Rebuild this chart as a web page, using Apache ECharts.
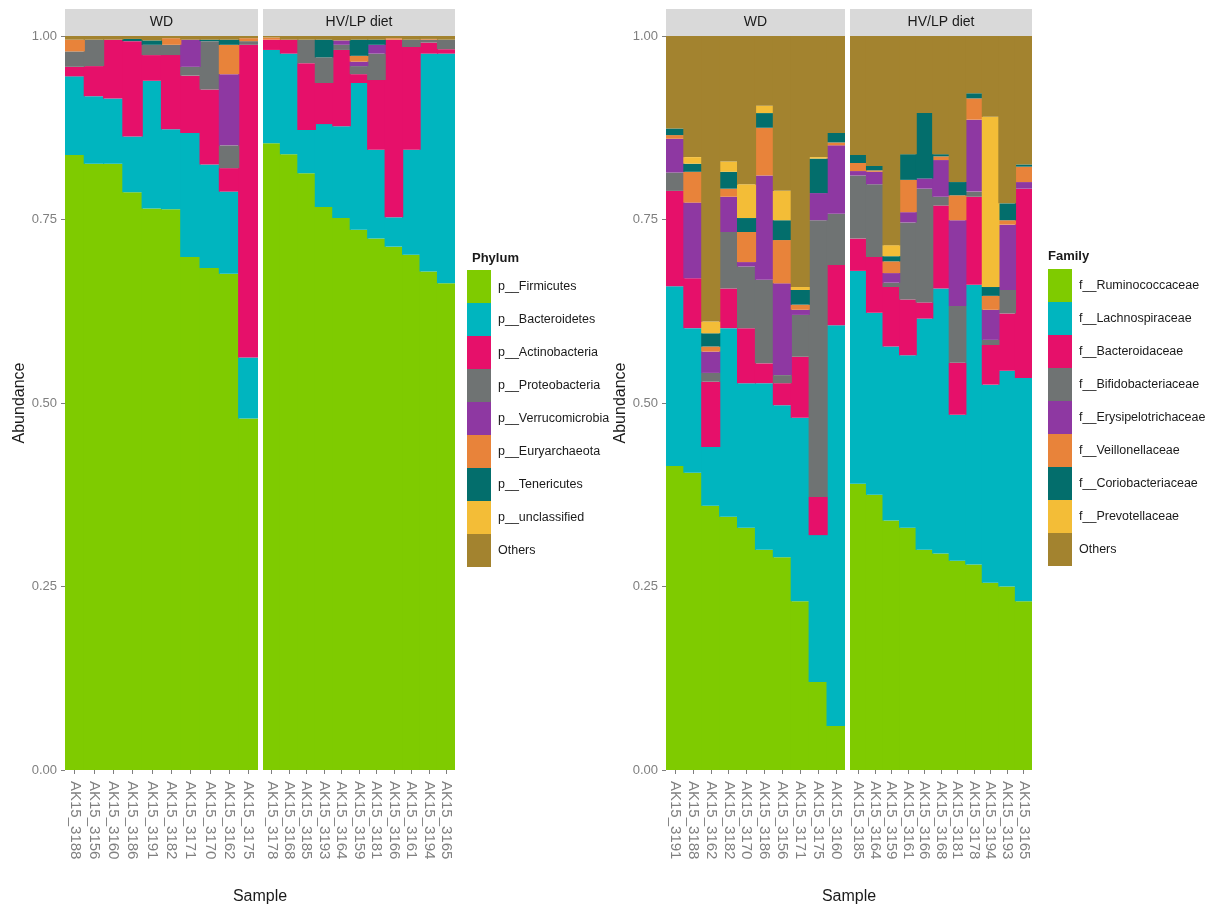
<!DOCTYPE html>
<html>
<head>
<meta charset="utf-8">
<script src="https://cdn.jsdelivr.net/npm/echarts@6/dist/echarts.min.js"></script>
<style>
html,body{margin:0;padding:0;background:#fff;}
#chart{width:1208px;height:909px;}
</style>
</head>
<body>
<div id="chart"></div>
<script>
// ---------- categories ----------
const phylumNames = ['p__Firmicutes','p__Bacteroidetes','p__Actinobacteria','p__Proteobacteria','p__Verrucomicrobia','p__Euryarchaeota','p__Tenericutes','p__unclassified','Others'];
const familyNames = ['f__Ruminococcaceae','f__Lachnospiraceae','f__Bacteroidaceae','f__Bifidobacteriaceae','f__Erysipelotrichaceae','f__Veillonellaceae','f__Coriobacteriaceae','f__Prevotellaceae','Others'];
const groupNames = ['WD','HV/LP diet'];
const yTicks = [0, 0.25, 0.5, 0.75, 1];

// ---------- samples ----------
const phylumWDSamples = ['AK15_3188','AK15_3156','AK15_3160','AK15_3186','AK15_3191','AK15_3182','AK15_3171','AK15_3170','AK15_3162','AK15_3175'];
const phylumHVSamples = ['AK15_3178','AK15_3168','AK15_3185','AK15_3193','AK15_3164','AK15_3159','AK15_3181','AK15_3166','AK15_3161','AK15_3194','AK15_3165'];
const familyWDSamples = ['AK15_3191','AK15_3188','AK15_3162','AK15_3182','AK15_3170','AK15_3186','AK15_3156','AK15_3171','AK15_3175','AK15_3160'];
const familyHVSamples = ['AK15_3185','AK15_3164','AK15_3159','AK15_3161','AK15_3166','AK15_3168','AK15_3181','AK15_3178','AK15_3194','AK15_3193','AK15_3165'];

// ---------- phylum, WD ----------
const pWD_Firmicutes      = [0.838,0.826,0.826,0.787,0.765,0.764,0.699,0.684,0.676,0.479];
const pWD_Bacteroidetes   = [0.107,0.092,0.089,0.076,0.174,0.109,0.169,0.141,0.112,0.083];
const pWD_Actinobacteria  = [0.013,0.041,0.080,0.130,0.035,0.101,0.078,0.102,0.032,0.426];
const pWD_Proteobacteria  = [0.021,0.036,0.000,0.000,0.014,0.014,0.012,0.066,0.031,0.005];
const pWD_Verrucomicrobia = [0.000,0.000,0.000,0.000,0.000,0.000,0.037,0.000,0.097,0.000];
const pWD_Euryarchaeota   = [0.016,0.000,0.000,0.000,0.000,0.009,0.000,0.000,0.040,0.004];
const pWD_Tenericutes     = [0.000,0.000,0.000,0.003,0.006,0.000,0.000,0.002,0.007,0.000];
const pWD_unclassified    = [0.000,0.000,0.000,0.000,0.000,0.000,0.000,0.000,0.000,0.000];
const pWD_Others          = [0.005,0.005,0.005,0.004,0.006,0.003,0.005,0.005,0.005,0.003];

// ---------- phylum, HV/LP ----------
const pHV_Firmicutes      = [0.854,0.839,0.813,0.767,0.752,0.736,0.724,0.713,0.702,0.679,0.663];
const pHV_Bacteroidetes   = [0.127,0.137,0.059,0.113,0.125,0.200,0.121,0.040,0.143,0.297,0.313];
const pHV_Actinobacteria  = [0.014,0.019,0.091,0.056,0.104,0.012,0.095,0.242,0.140,0.015,0.006];
const pHV_Proteobacteria  = [0.000,0.000,0.032,0.035,0.007,0.011,0.036,0.000,0.010,0.004,0.013];
const pHV_Verrucomicrobia = [0.000,0.000,0.000,0.000,0.006,0.006,0.012,0.000,0.000,0.000,0.000];
const pHV_Euryarchaeota   = [0.003,0.000,0.000,0.000,0.000,0.008,0.000,0.002,0.000,0.001,0.000];
const pHV_Tenericutes     = [0.000,0.000,0.000,0.024,0.000,0.022,0.007,0.000,0.000,0.000,0.000];
const pHV_unclassified    = [0.000,0.000,0.000,0.000,0.000,0.000,0.000,0.000,0.000,0.000,0.000];
const pHV_Others          = [0.002,0.005,0.005,0.005,0.006,0.005,0.005,0.003,0.005,0.004,0.005];

// ---------- family, WD ----------
const fWD_Ruminococcaceae    = [0.414,0.405,0.360,0.345,0.330,0.300,0.290,0.230,0.120,0.060];
const fWD_Lachnospiraceae    = [0.245,0.197,0.080,0.257,0.197,0.227,0.207,0.250,0.200,0.546];
const fWD_Bacteroidaceae     = [0.130,0.068,0.089,0.054,0.075,0.027,0.030,0.083,0.052,0.082];
const fWD_Bifidobacteriaceae = [0.025,0.000,0.012,0.077,0.084,0.114,0.011,0.057,0.377,0.070];
const fWD_Erysipelotrichaceae= [0.046,0.103,0.029,0.048,0.006,0.142,0.125,0.007,0.037,0.093];
const fWD_Veillonellaceae    = [0.005,0.042,0.007,0.011,0.041,0.065,0.059,0.007,0.000,0.004];
const fWD_Coriobacteriaceae  = [0.009,0.011,0.018,0.023,0.019,0.020,0.027,0.020,0.047,0.013];
const fWD_Prevotellaceae     = [0.000,0.009,0.016,0.014,0.046,0.010,0.040,0.004,0.002,0.000];
const fWD_Others             = [0.126,0.165,0.389,0.171,0.202,0.095,0.211,0.342,0.165,0.132];

// ---------- family, HV/LP ----------
const fHV_Ruminococcaceae    = [0.390,0.375,0.340,0.330,0.300,0.295,0.285,0.280,0.255,0.250,0.230];
const fHV_Lachnospiraceae    = [0.290,0.248,0.237,0.235,0.315,0.361,0.199,0.381,0.270,0.294,0.304];
const fHV_Bacteroidaceae     = [0.044,0.076,0.081,0.076,0.022,0.113,0.071,0.120,0.054,0.078,0.258];
const fHV_Bifidobacteriaceae = [0.086,0.099,0.006,0.105,0.155,0.012,0.077,0.007,0.007,0.032,0.000];
const fHV_Erysipelotrichaceae= [0.006,0.017,0.013,0.014,0.014,0.050,0.117,0.098,0.041,0.089,0.009];
const fHV_Veillonellaceae    = [0.011,0.002,0.016,0.044,0.000,0.005,0.034,0.029,0.019,0.006,0.021];
const fHV_Coriobacteriaceae  = [0.011,0.006,0.007,0.035,0.089,0.003,0.018,0.007,0.012,0.023,0.003];
const fHV_Prevotellaceae     = [0.000,0.000,0.015,0.000,0.000,0.000,0.000,0.000,0.232,0.000,0.000];
const fHV_Others             = [0.162,0.177,0.285,0.161,0.105,0.161,0.199,0.078,0.110,0.228,0.175];

// ---------- build ----------
const palette = ['#7FCB00','#00B5BF','#E6106A','#6F7373','#8E38A2','#E8833A','#036E6C','#F3BD37','#A3832F'];

const pWD = [pWD_Firmicutes,pWD_Bacteroidetes,pWD_Actinobacteria,pWD_Proteobacteria,pWD_Verrucomicrobia,pWD_Euryarchaeota,pWD_Tenericutes,pWD_unclassified,pWD_Others];
const pHV = [pHV_Firmicutes,pHV_Bacteroidetes,pHV_Actinobacteria,pHV_Proteobacteria,pHV_Verrucomicrobia,pHV_Euryarchaeota,pHV_Tenericutes,pHV_unclassified,pHV_Others];
const fWD = [fWD_Ruminococcaceae,fWD_Lachnospiraceae,fWD_Bacteroidaceae,fWD_Bifidobacteriaceae,fWD_Erysipelotrichaceae,fWD_Veillonellaceae,fWD_Coriobacteriaceae,fWD_Prevotellaceae,fWD_Others];
const fHV = [fHV_Ruminococcaceae,fHV_Lachnospiraceae,fHV_Bacteroidaceae,fHV_Bifidobacteriaceae,fHV_Erysipelotrichaceae,fHV_Veillonellaceae,fHV_Coriobacteriaceae,fHV_Prevotellaceae,fHV_Others];

const FONT = "'Liberation Sans', Arial, sans-serif";
const TOP = 36, H = 734;
const panels = [
  {left:65,  width:193, samples:phylumWDSamples, data:pWD, names:phylumNames, stack:'pWD', showY:true,  group:groupNames[0], nameGap:36},
  {left:263, width:192, samples:phylumHVSamples, data:pHV, names:phylumNames, stack:'pHV', showY:false, group:groupNames[1], nameGap:0},
  {left:666, width:179, samples:familyWDSamples, data:fWD, names:familyNames, stack:'fWD', showY:true,  group:groupNames[0], nameGap:29},
  {left:850, width:182, samples:familyHVSamples, data:fHV, names:familyNames, stack:'fHV', showY:false, group:groupNames[1], nameGap:0}
];

const grid = [], xAxis = [], yAxis = [], series = [], graphic = [];
panels.forEach((p, gi) => {
  grid.push({left:p.left, top:TOP, width:p.width, height:H, containLabel:false});
  xAxis.push({
    type:'category', gridIndex:gi, data:p.samples,
    axisLine:{show:false},
    axisTick:{show:true, alignWithLabel:true, interval:0, length:4, lineStyle:{color:'#7F7F7F'}},
    axisLabel:{interval:0, rotate:-90, margin:11, color:'#7F7F7F', fontSize:15, fontFamily:FONT},
    splitLine:{show:false}
  });
  yAxis.push({
    type:'value', gridIndex:gi, min:0, max:1, interval:0.25, show:p.showY,
    name: p.showY ? 'Abundance' : '', nameLocation:'middle', nameRotate:90,
    nameGap: p.nameGap,
    nameTextStyle:{fontSize:16, color:'#1A1A1A', fontFamily:FONT},
    axisLine:{show:false},
    axisTick:{show:true, length:4, lineStyle:{color:'#7F7F7F'}},
    axisLabel:{formatter:v => yTicks.indexOf(v) >= 0 ? v.toFixed(2) : '', color:'#7F7F7F', fontSize:13, margin:8, fontFamily:FONT},
    splitLine:{show:false}
  });
  const bw = p.width / p.samples.length + 1.2;  // slight overlap hides anti-aliasing seams
  p.names.forEach((nm, si) => {
    series.push({
      type:'bar', name:nm, xAxisIndex:gi, yAxisIndex:gi, stack:p.stack,
      data:p.data[si], barWidth:bw,
      itemStyle:{color:palette[si]}, silent:true
    });
  });
  // facet strip
  graphic.push({type:'rect', shape:{x:p.left, y:9, width:p.width, height:27}, style:{fill:'#D9D9D9'}});
  graphic.push({type:'text', style:{text:p.group, x:p.left + p.width/2, y:22, fill:'#1A1A1A', font:'14px ' + FONT, textAlign:'center', textVerticalAlign:'middle'}});
});

// x-axis titles
graphic.push({type:'text', style:{text:'Sample', x:260, y:897, fill:'#1A1A1A', font:'16px ' + FONT, textAlign:'center', textVerticalAlign:'middle'}});
graphic.push({type:'text', style:{text:'Sample', x:849, y:897, fill:'#1A1A1A', font:'16px ' + FONT, textAlign:'center', textVerticalAlign:'middle'}});
// legend titles
graphic.push({type:'text', style:{text:'Phylum', x:472, y:258, fill:'#1A1A1A', font:'bold 13px ' + FONT, textAlign:'left', textVerticalAlign:'middle'}});
graphic.push({type:'text', style:{text:'Family', x:1048, y:256, fill:'#1A1A1A', font:'bold 13px ' + FONT, textAlign:'left', textVerticalAlign:'middle'}});

const legendCommon = {
  orient:'vertical', icon:'rect', itemWidth:24, itemHeight:33, itemGap:0,
  selectedMode:false, padding:0,
  itemStyle:{borderWidth:0},
  textStyle:{fontSize:12.5, color:'#1A1A1A', fontFamily:FONT, padding:[0,0,0,2]}
};

const chart = echarts.init(document.getElementById('chart'), null, {renderer:'canvas'});
chart.setOption({
  backgroundColor:'#FFFFFF',
  animation:false,
  grid, xAxis, yAxis, series, graphic,
  legend:[
    Object.assign({}, legendCommon, {left:467, top:270, data:phylumNames}),
    Object.assign({}, legendCommon, {left:1048, top:269, data:familyNames})
  ]
});
</script>
</body>
</html>
